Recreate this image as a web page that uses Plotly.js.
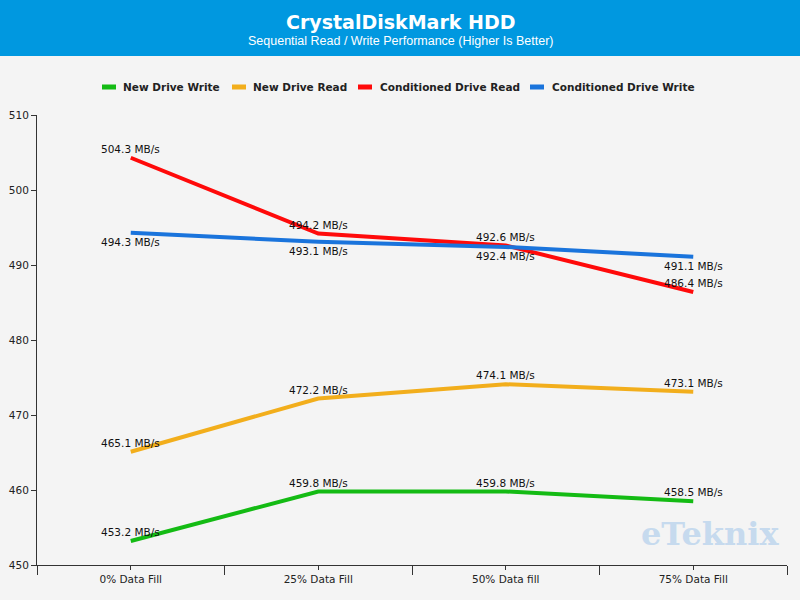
<!DOCTYPE html>
<html><head><meta charset="utf-8">
<script src="https://cdn.plot.ly/plotly-3.0.1.min.js"></script>
<style>html,body{margin:0;padding:0;background:#f4f4f4;}#chart{width:800px;height:600px;}</style>
</head><body><div id="chart"></div>
<script>
const categories = ["0% Data Fill", "25% Data Fill", "50% Data fill", "75% Data Fill"];
const seriesNames = ["New Drive Write", "New Drive Read", "Conditioned Drive Read", "Conditioned Drive Write"];
const newDriveWrite = [453.2, 459.8, 459.8, 458.5];
const newDriveRead = [465.1, 472.2, 474.1, 473.1];
const condDriveRead = [504.3, 494.2, 492.6, 486.4];
const condDriveWrite = [494.3, 493.1, 492.4, 491.1];
const colors = ["#14bb14", "#f2ae1c", "#ff0a0a", "#1a74dc"];
const labelAbove = [true, true, true, false];

const allSeries = [newDriveWrite, newDriveRead, condDriveRead, condDriveWrite];
const xIdx = categories.map((c, i) => i);
const font = "DejaVu Sans, Verdana, sans-serif";
const L = 37, T = 115, PW = 750, PH = 450;
const px = x => (x - L) / PW;
const py = y => (T + PH - y) / PH;

const traces = [];
allSeries.forEach((vals, k) => {
  traces.push({x: xIdx, y: vals, type: "scatter", mode: "lines", name: seriesNames[k],
    line: {color: colors[k], width: 4}, hoverinfo: "skip", showlegend: false});
});

const shapes = [{type: "rect", xref: "paper", yref: "paper", x0: px(0), x1: px(800), y0: py(56), y1: py(-5),
  fillcolor: "#0098e0", line: {width: 0}, layer: "below"}];
const annotations = [
  {xref: "paper", yref: "paper", x: px(400), y: py(22), text: "<b>CrystalDiskMark HDD</b>", showarrow: false,
    font: {family: font, size: 19, color: "#fff"}, xanchor: "center", yanchor: "middle"},
  {xref: "paper", yref: "paper", x: px(400), y: py(41), text: "Sequential Read / Write Performance (Higher Is Better)", showarrow: false,
    font: {family: "Liberation Sans, Arial, sans-serif", size: 12.5, color: "#fff"}, xanchor: "center", yanchor: "middle"},
  {xref: "paper", yref: "paper", x: px(781), y: py(534), text: "<b>eTeknix</b>", showarrow: false,
    font: {family: "DejaVu Serif, Liberation Serif, serif", size: 32, color: "#c6daee"}, xanchor: "right", yanchor: "middle"}
];

// legend keys (manual, to match the compact reference legend)
const legendSym = [102, 232, 358, 530];
const legendTxt = [121, 251, 378, 550];
seriesNames.forEach((n, k) => {
  shapes.push({type: "line", xref: "paper", yref: "paper", x0: px(legendSym[k]), x1: px(legendSym[k] + 14),
    y0: py(87), y1: py(87), line: {color: colors[k], width: 5}});
  annotations.push({xref: "paper", yref: "paper", x: px(legendTxt[k]), y: py(87), text: "<b>" + n + "</b>",
    showarrow: false, xanchor: "left", yanchor: "middle", font: {family: font, size: 10.5, color: "#222"}});
});

allSeries.forEach((vals, k) => {
  vals.forEach((v, i) => {
    annotations.push({x: xIdx[i], y: v, xref: "x", yref: "y", text: v.toFixed(1) + " MB/s", showarrow: false,
      xanchor: "center", yanchor: "middle", yshift: labelAbove[k] ? 9 : -9,
      font: {family: font, size: 10.5, color: "#111"}});
  });
});

const layout = {
  width: 800, height: 600,
  paper_bgcolor: "#f4f4f4", plot_bgcolor: "#f4f4f4",
  margin: {l: L, r: 800 - L - PW, t: T, b: 600 - T - PH},
  showlegend: false,
  xaxis: {range: [-0.5, 3.5], tickvals: xIdx, ticktext: categories, ticks: "outside", ticklen: 4,
    tickcolor: "#333", showline: true, linecolor: "#333", linewidth: 1, showgrid: false, zeroline: false,
    tickfont: {family: font, size: 10.5, color: "#222"},
    minor: {tick0: -0.5, dtick: 1, ticks: "outside", ticklen: 9, tickcolor: "#333", showgrid: false}},
  yaxis: {range: [450, 510], dtick: 10, ticks: "outside", ticklen: 5, tickcolor: "#333",
    showline: true, linecolor: "#333", linewidth: 1, showgrid: false, zeroline: false,
    tickfont: {family: font, size: 10.5, color: "#222"}},
  shapes: shapes,
  annotations: annotations
};
Plotly.newPlot("chart", traces, layout, {displayModeBar: false, staticPlot: true});
</script></body></html>
